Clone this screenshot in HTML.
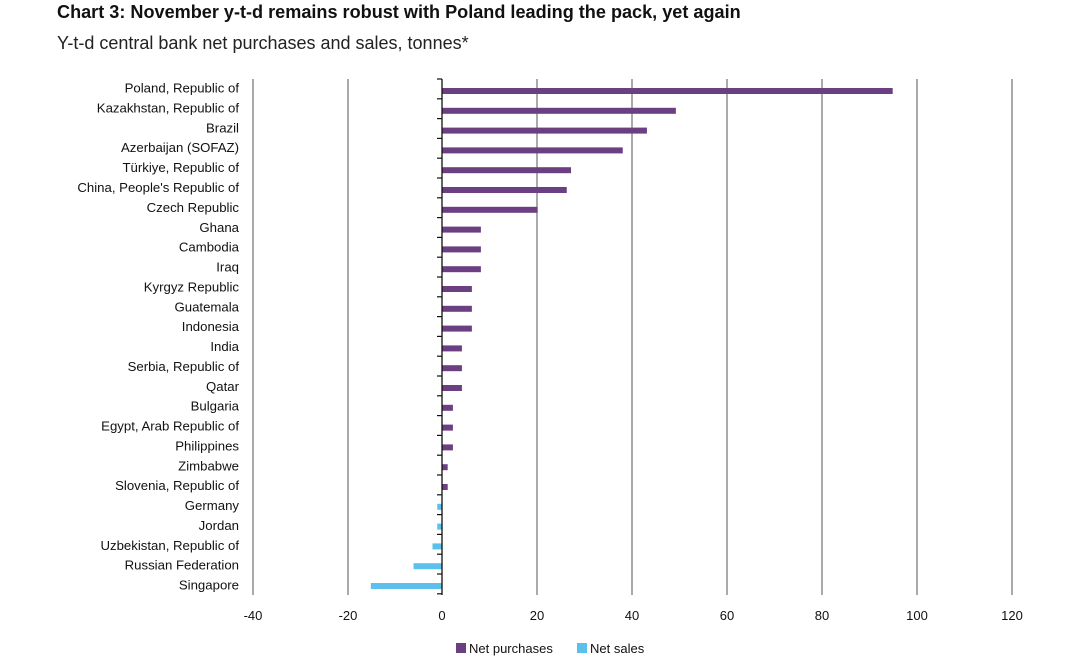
<!DOCTYPE html>
<html><head><meta charset="utf-8"><style>
body{margin:0;background:#fff;width:1091px;height:658px;overflow:hidden;font-family:"Liberation Sans",sans-serif;}
</style></head><body>
<svg width="1091" height="658" xmlns="http://www.w3.org/2000/svg" font-family="Liberation Sans, sans-serif">
<text x="57" y="18" font-size="18.1" font-weight="bold" fill="#111">Chart 3: November y-t-d remains robust with Poland leading the pack, yet again</text>
<text x="57" y="49" font-size="18" fill="#222">Y-t-d central bank net purchases and sales, tonnes*</text>
<g stroke="#aaa" stroke-width="2">
<line x1="253" y1="79" x2="253" y2="595"/><line x1="348" y1="79" x2="348" y2="595"/>
<line x1="537" y1="79" x2="537" y2="595"/><line x1="632" y1="79" x2="632" y2="595"/>
<line x1="727" y1="79" x2="727" y2="595"/><line x1="822" y1="79" x2="822" y2="595"/>
<line x1="917" y1="79" x2="917" y2="595"/><line x1="1012" y1="79" x2="1012" y2="595"/>
</g>
<g id="bars"></g>
<line x1="442" y1="79" x2="442" y2="595" stroke="#111" stroke-width="1.3"/>
<g id="ticks" stroke="#111" stroke-width="1.2"></g>
<g id="labels" font-size="13.2" fill="#111" text-anchor="end"></g>
<g font-size="13" fill="#111" text-anchor="middle">
<text x="253" y="620">-40</text><text x="348" y="620">-20</text><text x="442" y="620">0</text>
<text x="537" y="620">20</text><text x="632" y="620">40</text><text x="727" y="620">60</text>
<text x="822" y="620">80</text><text x="917" y="620">100</text><text x="1012" y="620">120</text>
</g>
<rect x="456" y="643" width="10" height="10" fill="#6b3f82"/>
<text x="469" y="653" font-size="13" fill="#111">Net purchases</text>
<rect x="577" y="643" width="10" height="10" fill="#5bc0eb"/>
<text x="590" y="653" font-size="13" fill="#111">Net sales</text>
</svg>
<script>
const d=[["Poland, Republic of",95],["Kazakhstan, Republic of",49.3],["Brazil",43.2],["Azerbaijan (SOFAZ)",38.1],["Türkiye, Republic of",27.2],["China, People's Republic of",26.3],["Czech Republic",20.1],["Ghana",8.2],["Cambodia",8.2],["Iraq",8.2],["Kyrgyz Republic",6.3],["Guatemala",6.3],["Indonesia",6.3],["India",4.2],["Serbia, Republic of",4.2],["Qatar",4.2],["Bulgaria",2.3],["Egypt, Arab Republic of",2.3],["Philippines",2.3],["Zimbabwe",1.2],["Slovenia, Republic of",1.2],["Germany",-1],["Jordan",-1],["Uzbekistan, Republic of",-2],["Russian Federation",-6],["Singapore",-15]];
const ns="http://www.w3.org/2000/svg",s=4.744,step=19.8;
const B=document.getElementById("bars"),T=document.getElementById("ticks"),L=document.getElementById("labels");
d.forEach((r,i)=>{const y=88+step*i,w=Math.abs(r[1])*s;
const b=document.createElementNS(ns,"rect");b.setAttribute("x",r[1]>=0?442:442-w);b.setAttribute("y",y);b.setAttribute("width",w);b.setAttribute("height",6);b.setAttribute("fill",r[1]>=0?"#6b3f82":"#5bc0eb");B.appendChild(b);
const t=document.createElementNS(ns,"text");t.setAttribute("x",239);t.setAttribute("y",88+19.88*i+4.6);t.textContent=r[0];L.appendChild(t);});
for(let k=0;k<=26;k++){const y=79+step*k;const l=document.createElementNS(ns,"line");l.setAttribute("x1",437);l.setAttribute("x2",442);l.setAttribute("y1",y);l.setAttribute("y2",y);T.appendChild(l);}
</script>
</body></html>
